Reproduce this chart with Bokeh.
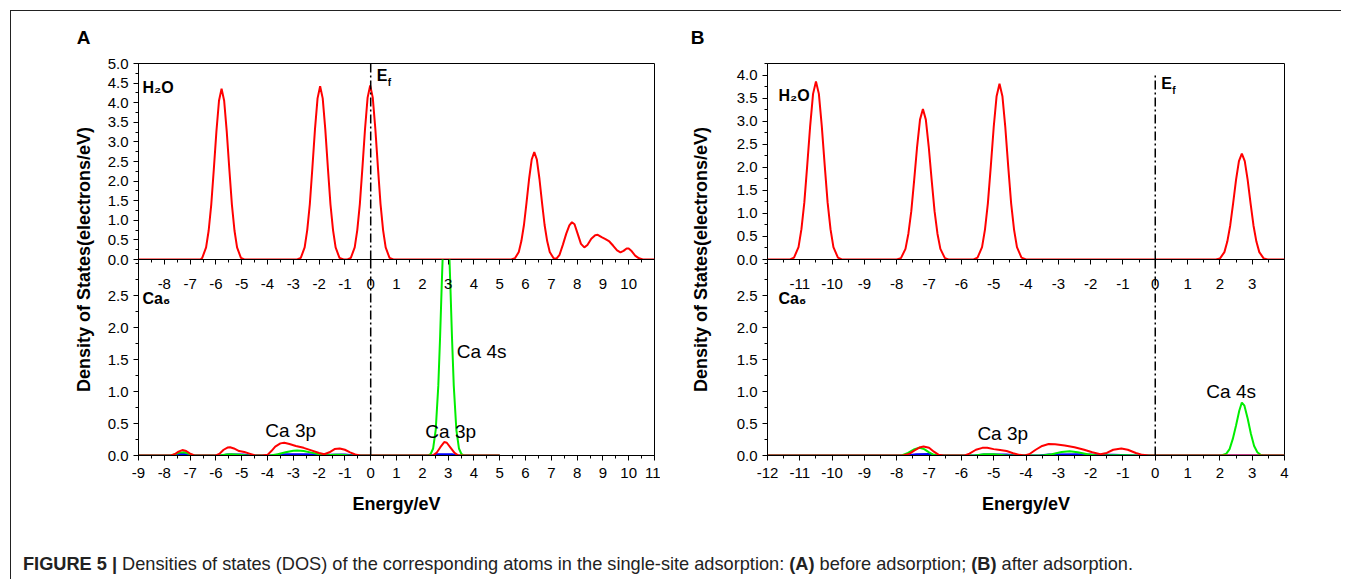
from math import pi
from bokeh.plotting import figure
from bokeh.layouts import row, column
from bokeh.models import Range1d, LinearAxis, FixedTicker, PrintfTickFormatter, Label, Div
from bokeh.embed import file_html
from bokeh.resources import INLINE
from bokeh.core.validation import silence
from bokeh.core.validation.warnings import MISSING_RENDERERS

silence(MISSING_RENDERERS, True)

# ---------------------------------------------------------------- data
# Panel A (before adsorption): H2O DOS (top) and Ca6 DOS (bottom)
A_TOP_X = [
    -9.0, -6.6,
    -6.53, -6.38, -6.28, -6.18, -6.08, -5.98, -5.88, -5.78, -5.68, -5.58, -5.48, -5.38, -5.28, -5.18, -5.03,
    -4.9, -2.85,
    -2.71, -2.56, -2.46, -2.36, -2.26, -2.16, -2.06, -1.96, -1.86, -1.76, -1.66, -1.56, -1.46, -1.36, -1.21,
    -1.05, -0.9,
    -0.77, -0.62, -0.52, -0.42, -0.32, -0.22, -0.12, -0.02, 0.08, 0.18, 0.28, 0.38, 0.48, 0.58, 0.73,
    0.88, 5.45,
    5.59, 5.74, 5.84, 5.94, 6.04, 6.14, 6.24, 6.34, 6.44, 6.54, 6.64, 6.74, 6.84, 6.94, 7.09,
    7.2, 7.32, 7.45, 7.58, 7.7, 7.8, 7.9, 8.02, 8.15, 8.28, 8.4, 8.55, 8.7, 8.8, 8.95, 9.1,
    9.25, 9.4, 9.55, 9.68, 9.8, 9.92, 10.0, 10.12, 10.25, 10.4, 10.55, 11.0]
A_TOP_Y = [
    0, 0,
    0.04, 0.31, 0.74, 1.40, 2.31, 3.27, 4.05, 4.36, 4.05, 3.27, 2.31, 1.40, 0.74, 0.31, 0.04,
    0, 0,
    0.04, 0.31, 0.75, 1.41, 2.34, 3.32, 4.11, 4.42, 4.11, 3.32, 2.34, 1.41, 0.75, 0.31, 0.04,
    0, 0,
    0.04, 0.31, 0.75, 1.42, 2.35, 3.33, 4.13, 4.44, 4.13, 3.33, 2.35, 1.42, 0.75, 0.31, 0.04,
    0, 0,
    0.03, 0.19, 0.47, 0.88, 1.45, 2.06, 2.55, 2.74, 2.55, 2.06, 1.45, 0.88, 0.47, 0.19, 0.03,
    0.02, 0.12, 0.38, 0.66, 0.87, 0.95, 0.9, 0.66, 0.4, 0.31, 0.37, 0.53, 0.62, 0.63, 0.57, 0.52,
    0.46, 0.35, 0.23, 0.18, 0.22, 0.28, 0.28, 0.21, 0.1, 0.03, 0.0, 0.0]

A_BOT_RED_X = [-9.0, -7.75, -7.6, -7.45, -7.3, -7.15, -7.0, -6.85, -6.7,
               -6.0, -5.85, -5.7, -5.55, -5.45, -5.3, -5.1, -4.9, -4.7, -4.5,
               -4.2, -4.0, -3.85, -3.7, -3.5, -3.35, -3.15, -2.9, -2.6, -2.3, -2.0, -1.8,
               -1.6, -1.4, -1.2, -1.0, -0.8, -0.6, -0.4,
               2.4, 2.55, 2.7, 2.85, 2.95, 3.1, 3.25, 3.4, 5.0]
A_BOT_RED_Y = [0, 0, 0.02, 0.06, 0.085, 0.07, 0.03, 0.005, 0,
               0, 0.03, 0.09, 0.125, 0.13, 0.11, 0.07, 0.055, 0.03, 0.005,
               0, 0.01, 0.07, 0.14, 0.19, 0.2, 0.18, 0.15, 0.12, 0.08, 0.04, 0.02,
               0.05, 0.1, 0.11, 0.09, 0.05, 0.015, 0,
               0, 0.04, 0.13, 0.21, 0.2, 0.12, 0.04, 0, 0]
A_BOT_GREEN_X = [-9.0, -7.75, -7.55, -7.4, -7.25, -7.1, -6.95, -6.8,
                 -5.85, -5.6, -5.4, -5.1, -4.8,
                 -3.9, -3.6, -3.3, -3.0, -2.85, -2.6, -2.3, -2.0, -1.7, -1.4, -1.15, -0.9, -0.6,
                 2.22, 2.32, 2.42, 2.52, 2.62, 2.69, 2.75, 2.82, 2.92, 3.02, 3.09, 3.15, 3.22,
                 3.32, 3.42, 3.52, 3.62, 5.0]
A_BOT_GREEN_Y = [0, 0, 0.025, 0.045, 0.05, 0.035, 0.01, 0,
                 0, 0.015, 0.02, 0.01, 0,
                 0, 0.02, 0.05, 0.075, 0.08, 0.07, 0.045, 0.02, 0.005, 0.01, 0.012, 0.005, 0,
                 0, 0.02, 0.11, 0.4, 1.09, 1.86, 2.63, 3.46, 4.0, 3.46, 2.63, 1.86, 1.09,
                 0.4, 0.11, 0.02, 0, 0]
A_BOT_BLUE_X = [-9.0, -7.6, -7.45, -7.2, -7.0, -5.8, -5.55, -4.95, -4.65, -3.8,
                -3.5, -2.5, -1.6, -1.0, -0.6, 2.4, 2.6, 3.15, 3.35, 5.0]
A_BOT_BLUE_Y = [0, 0, 0.025, 0.025, 0, 0, 0.015, 0.015, 0, 0,
                0.02, 0.02, 0.012, 0.015, 0, 0, 0.02, 0.02, 0, 0]

# Panel B (after adsorption)
B_TOP_X = [
    -12.0, -11.3,
    -11.18, -11.04, -10.95, -10.86, -10.77, -10.68, -10.59, -10.5, -10.41, -10.32, -10.23, -10.14, -10.05, -9.96, -9.82,
    -9.7, -8.0,
    -7.87, -7.73, -7.64, -7.55, -7.46, -7.37, -7.28, -7.19, -7.10, -7.01, -6.92, -6.83, -6.74, -6.65, -6.51,
    -6.4, -5.62,
    -5.50, -5.36, -5.27, -5.18, -5.09, -5.00, -4.91, -4.82, -4.73, -4.64, -4.55, -4.46, -4.37, -4.28, -4.14,
    -4.0, 1.88,
    2.00, 2.14, 2.23, 2.32, 2.41, 2.50, 2.59, 2.68, 2.77, 2.86, 2.95, 3.04, 3.13, 3.22, 3.36,
    3.48, 4.0]
B_TOP_Y = [
    0, 0,
    0.04, 0.27, 0.66, 1.24, 2.05, 2.90, 3.60, 3.87, 3.60, 2.90, 2.05, 1.24, 0.66, 0.27, 0.04,
    0, 0,
    0.03, 0.23, 0.56, 1.05, 1.73, 2.45, 3.04, 3.27, 3.04, 2.45, 1.73, 1.05, 0.56, 0.23, 0.03,
    0, 0,
    0.04, 0.27, 0.65, 1.22, 2.02, 2.87, 3.55, 3.82, 3.55, 2.87, 2.02, 1.22, 0.65, 0.27, 0.04,
    0, 0,
    0.02, 0.16, 0.39, 0.74, 1.22, 1.73, 2.14, 2.30, 2.14, 1.73, 1.22, 0.74, 0.39, 0.16, 0.02,
    0, 0]

B_BOT_RED_X = [-12.0, -7.8, -7.6, -7.45, -7.3, -7.17, -7.0, -6.85, -6.7, -6.55,
               -5.9, -5.75, -5.55, -5.35, -5.2, -5.0, -4.8, -4.6, -4.4, -4.2, -4.05,
               -3.9, -3.7, -3.5, -3.3, -3.1, -2.8, -2.5, -2.2, -1.95, -1.7,
               -1.5, -1.3, -1.05, -0.85, -0.6, -0.4, -0.2, 4.0]
B_BOT_RED_Y = [0, 0, 0.03, 0.08, 0.125, 0.14, 0.12, 0.06, 0.01, 0,
               0, 0.03, 0.09, 0.12, 0.12, 0.1, 0.085, 0.07, 0.035, 0.01, 0.0,
               0.02, 0.09, 0.15, 0.18, 0.175, 0.155, 0.13, 0.09, 0.05, 0.02,
               0.04, 0.09, 0.11, 0.09, 0.04, 0.01, 0, 0]
B_BOT_GREEN_X = [-12.0, -7.85, -7.65, -7.45, -7.3, -7.15, -7.0, -6.85, -6.7,
                 -5.6, -5.3, -5.0, -4.6,
                 -3.5, -3.2, -2.9, -2.65, -2.4, -2.1, -1.8, -1.3, -0.9, -0.6,
                 2.05, 2.2, 2.3, 2.4, 2.5, 2.6, 2.68, 2.76, 2.86, 2.96, 3.06, 3.16, 3.26, 3.35, 4.0]
B_BOT_GREEN_Y = [0, 0, 0.04, 0.1, 0.12, 0.1, 0.05, 0.01, 0,
                 0, 0.02, 0.02, 0,
                 0, 0.02, 0.055, 0.065, 0.05, 0.02, 0, 0.005, 0.005, 0,
                 0, 0.03, 0.1, 0.26, 0.47, 0.7, 0.83, 0.78, 0.58, 0.34, 0.15, 0.05, 0.01, 0, 0]
B_BOT_BLUE_X = [-12.0, -7.7, -7.4, -7.0, -6.8, -5.6, -5.3, -4.6, -4.3, -3.6, -3.3, -2.4, -1.8, -1.3, -0.6, 4.0]
B_BOT_BLUE_Y = [0, 0, 0.02, 0.025, 0, 0, 0.015, 0.015, 0, 0, 0.015, 0.02, 0.01, 0.01, 0, 0]

# axes / ticks
A_X_RANGE = (-9, 11)
B_X_RANGE = (-12, 4)
A_X_TICKS = list(range(-9, 12))
A_TOP_X_TICKS = list(range(-8, 11))
B_X_TICKS = list(range(-12, 5))
B_TOP_X_TICKS = list(range(-11, 4))
A_TOP_Y_MAX = 5.0
B_TOP_Y_MAX = 4.26
BOT_Y_MAX = 3.07
A_TOP_Y_TICKS = [0.0, 0.5, 1.0, 1.5, 2.0, 2.5, 3.0, 3.5, 4.0, 4.5, 5.0]
B_TOP_Y_TICKS = [0.0, 0.5, 1.0, 1.5, 2.0, 2.5, 3.0, 3.5, 4.0]
BOT_Y_TICKS = [0.0, 0.5, 1.0, 1.5, 2.0, 2.5]
EF = 0.0
A_EF_TOP = 5.0
B_EF_TOP = 4.0

FONT = "Liberation Sans"
RED, GREEN, BLUE = "#ff0000", "#00ee00", "#0000ff"

OVERLAP = 8
TOP_H, TOP_MBT = 248 + OVERLAP, 52
BOT_H, BOT_MBB = 268, 72
LAB_H = TOP_H + BOT_H - OVERLAP


def steps(a, b, d):
    n = int(round((b - a) / d))
    return [a + d * i for i in range(n + 1)]


def style_axis(ax, out=True):
    ax.axis_line_color = "black"
    ax.major_tick_line_color = "black"
    ax.minor_tick_line_color = "black"
    if out:
        ax.major_tick_out, ax.major_tick_in = 5, 0
        ax.minor_tick_out, ax.minor_tick_in = 3, 0
    else:
        ax.major_tick_out, ax.major_tick_in = 0, 5
        ax.minor_tick_out, ax.minor_tick_in = 0, 3
    ax.major_label_text_font = FONT
    ax.major_label_text_font_size = "15px"
    ax.major_label_text_color = "black"
    ax.axis_label_text_font = FONT
    ax.axis_label_text_font_size = "18px"
    ax.axis_label_text_font_style = "bold"
    ax.axis_label_text_color = "black"
    return ax


def base(width, height, xr, ymax, mbl, mbr, mbt, mbb, transparent=False):
    p = figure(width=width, height=height, x_range=xr, y_range=Range1d(0, ymax),
               output_backend="svg", toolbar_location=None,
               x_axis_location=None, y_axis_location=None,
               min_border_left=mbl, min_border_right=mbr,
               min_border_top=mbt, min_border_bottom=mbb)
    p.grid.visible = False
    p.outline_line_color = "black"
    p.outline_line_alpha = 1.0
    p.outline_line_width = 1
    if transparent:
        p.background_fill_color = None
        p.border_fill_color = None
    else:
        p.background_fill_color = "white"
        p.border_fill_color = "white"
    return p


def ylab_fig(width, letter, letter_x, label_x):
    p = figure(width=width, height=LAB_H, x_range=Range1d(0, 1), y_range=Range1d(0, 1),
               output_backend="svg", toolbar_location=None,
               x_axis_location=None, y_axis_location=None, min_border=0)
    p.grid.visible = False
    p.outline_line_color = None
    p.add_layout(Label(x=letter_x, y=LAB_H - 26, x_units="screen", y_units="screen", text=letter,
                       text_font=FONT, text_font_size="19px", text_font_style="bold",
                       text_align="center", text_baseline="middle", text_color="black"))
    p.add_layout(Label(x=label_x, y=LAB_H - 248, x_units="screen", y_units="screen",
                       text="Density of States(electrons/eV)", angle=pi / 2,
                       text_font=FONT, text_font_size="18px", text_font_style="bold",
                       text_align="center", text_baseline="middle", text_color="black"))
    return p


def panel(xr_vals, x_ticks, top_x_ticks, top_ymax, top_yticks, top_x, top_y, bot, ef_top,
          fig_w, mbl, mbr, h2o_x, h2o_y, ef_y, notes):
    xr = Range1d(*xr_vals)
    top = base(fig_w, TOP_H, xr, top_ymax, mbl, mbr, TOP_MBT, OVERLAP)
    ya = LinearAxis(ticker=FixedTicker(ticks=top_yticks, minor_ticks=steps(0, top_ymax, 0.25)),
                    formatter=PrintfTickFormatter(format="%.1f"), major_label_standoff=5)
    top.add_layout(style_axis(ya), "left")
    top.line(top_x, top_y, line_color=RED, line_width=2)
    top.line([EF, EF], [0, ef_top], line_color="black", line_width=1.5, line_dash="9 3 2 3")
    top.add_layout(Label(x=h2o_x, y=h2o_y, x_units="screen", y_units="screen", text="H₂O",
                         text_font=FONT, text_font_size="16px", text_font_style="bold",
                         text_baseline="middle", text_color="black"))
    top.add_layout(Label(x=EF, y=ef_y, x_offset=6, text="E", text_font=FONT, text_font_size="16px",
                         text_font_style="bold", text_baseline="middle", text_color="black"))
    top.add_layout(Label(x=EF, y=ef_y, x_offset=17, y_offset=-7, text="f", text_font=FONT,
                         text_font_size="10px", text_font_style="bold", text_baseline="middle",
                         text_color="black"))

    b = base(fig_w, BOT_H, xr, BOT_Y_MAX, mbl, mbr, 0, BOT_MBB, transparent=True)
    b.margin = (-OVERLAP, 0, 0, 0)
    yb = LinearAxis(ticker=FixedTicker(ticks=BOT_Y_TICKS, minor_ticks=steps(0, 3.0, 0.25)),
                    formatter=PrintfTickFormatter(format="%.1f"), major_label_standoff=5)
    b.add_layout(style_axis(yb), "left")
    xb = LinearAxis(ticker=FixedTicker(ticks=x_ticks, minor_ticks=steps(xr_vals[0], xr_vals[1], 0.5)),
                    formatter=PrintfTickFormatter(format="%d"), major_label_standoff=7,
                    axis_label="Energy/eV", axis_label_standoff=13)
    b.add_layout(style_axis(xb), "below")
    xt = LinearAxis(ticker=FixedTicker(ticks=top_x_ticks, minor_ticks=steps(xr_vals[0], xr_vals[1], 0.5)),
                    formatter=PrintfTickFormatter(format="%d"), major_label_standoff=-29)
    style_axis(xt, out=False)
    xt.axis_line_color = None
    b.add_layout(xt, "above")
    bx, by, gx, gy, rx, ry = bot
    b.line(bx, by, line_color=BLUE, line_width=2)
    b.line(gx, gy, line_color=GREEN, line_width=2)
    b.line(rx, ry, line_color=RED, line_width=2)
    b.line([EF, EF], [0, BOT_Y_MAX], line_color="black", line_width=1.5, line_dash="9 3 2 3")
    b.add_layout(Label(x=h2o_x, y=157, x_units="screen", y_units="screen", text="Ca₆",
                       text_font=FONT, text_font_size="16px", text_font_style="bold",
                       text_baseline="middle", text_color="black"))
    for (tx, ty, txt, al) in notes:
        b.add_layout(Label(x=tx, y=ty, text=txt, text_font=FONT, text_font_size="19px",
                           text_align=al, text_baseline="middle", text_color="black"))
    return column(top, b, spacing=0)


colA = panel(A_X_RANGE, A_X_TICKS, A_TOP_X_TICKS, A_TOP_Y_MAX, A_TOP_Y_TICKS, A_TOP_X, A_TOP_Y,
             (A_BOT_BLUE_X, A_BOT_BLUE_Y, A_BOT_GREEN_X, A_BOT_GREEN_Y, A_BOT_RED_X, A_BOT_RED_Y),
             A_EF_TOP, 559, 37, 6, 4, 172, 4.7,
             [(-3.1, 0.39, "Ca 3p", "center"), (3.1, 0.37, "Ca 3p", "center"), (3.34, 1.63, "Ca 4s", "left")])
colB = panel(B_X_RANGE, B_X_TICKS, B_TOP_X_TICKS, B_TOP_Y_MAX, B_TOP_Y_TICKS, B_TOP_X, B_TOP_Y,
             (B_BOT_BLUE_X, B_BOT_BLUE_Y, B_BOT_GREEN_X, B_BOT_GREEN_Y, B_BOT_RED_X, B_BOT_RED_Y),
             B_EF_TOP, 584, 37, 30, 11, 164, 3.83,
             [(-4.72, 0.35, "Ca 3p", "center"), (2.35, 1.0, "Ca 4s", "center")])

labA = ylab_fig(90, "A", 72, 72)
labB = ylab_fig(70, "B", 37, 40)

caption = Div(
    text='<div style="padding:19px 0 0 7px; font-family:\'Liberation Sans\'; font-size:18.2px; '
         'color:#222; white-space:nowrap"><b>FIGURE 5 |</b> Densities of states (DOS) of the corresponding '
         'atoms in the single-site adsorption: <b>(A)</b> before adsorption; <b>(B)</b> after adsorption.</div>',
    width=1320, height=50)

page = column(row(labA, colA, labB, colB, spacing=0), caption, spacing=0,
              styles={"border-top": "1px solid #222", "border-left": "1px solid #222"},
              margin=(10, 0, 0, 10))

open("out.html", "w").write(file_html(page, INLINE))
